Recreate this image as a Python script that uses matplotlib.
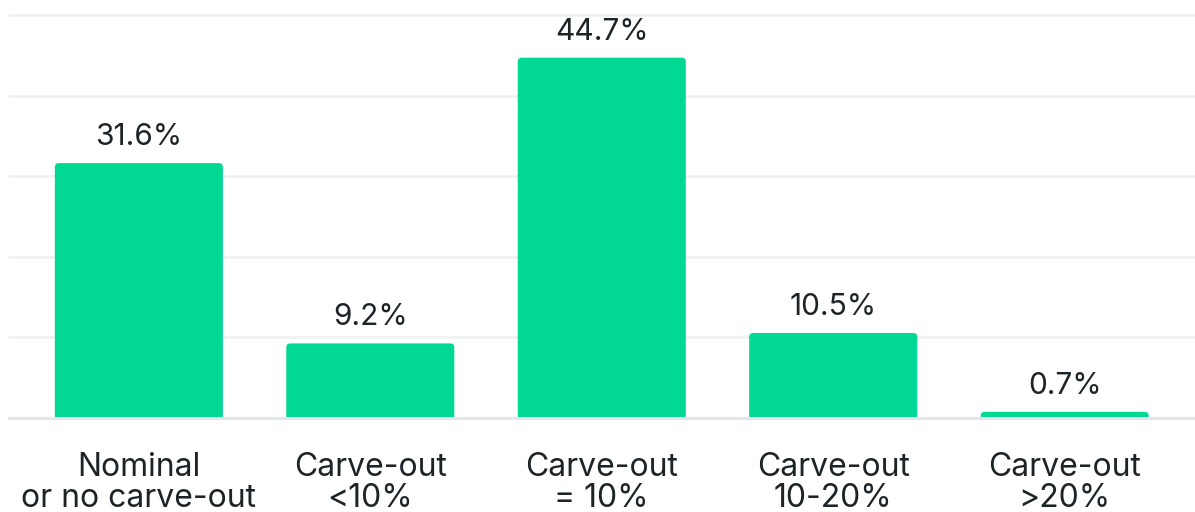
import numpy as np
import matplotlib.pyplot as plt
from matplotlib.patches import FancyBboxPatch

plt.rcParams['font.family'] = ['Inter', 'DejaVu Sans']

# Data
categories = ["Nominal\nor no carve-out", "Carve-out\n<10%", "Carve-out\n= 10%",
              "Carve-out\n10-20%", "Carve-out\n>20%"]
shares = [31.6, 9.2, 44.7, 10.5, 0.7]
value_labels = ["31.6%", "9.2%", "44.7%", "10.5%", "0.7%"]
grid_ticks = [0, 10, 20, 30, 40, 50]

bar_color = '#00d894'
text_color = '#1d2428'

fig = plt.figure(figsize=(11.95, 5.12), dpi=100)
ax = fig.add_axes([9 / 1195, (512 - 417.5) / 512, 1 - 9 / 1195, (417.5 - 15) / 512])

x = np.arange(len(categories))
bar_w = 0.726
ax.set_xlim(-0.561, 4.563)
ax.set_ylim(0, 50)

# pixel scales for rounded corners
px_x = 1 / 231.45
px_y = 50 / 402.5
radius = 4 * px_x

for xi, v in zip(x, shares):
    # extend below zero so the bottom corners get clipped (flat bottom)
    patch = FancyBboxPatch((xi - bar_w / 2, -2), bar_w, v + 2,
                           boxstyle=f"round,pad=0,rounding_size={radius}",
                           mutation_aspect=px_y / px_x,
                           facecolor=bar_color, edgecolor='none', zorder=3)
    ax.add_patch(patch)

for xi, v, lab in zip(x, shares, value_labels):
    ax.annotate(lab, (xi, v), xytext=(0, 13), textcoords='offset points',
                ha='center', va='baseline', fontsize=21.5, color=text_color)

# gridlines
for g in grid_ticks[1:]:
    ax.axhline(g, color='#eef1f1', lw=1.8, zorder=1, clip_on=False)
ax.axhline(0, color='#e2e6e8', lw=2.2, zorder=4, clip_on=False)

ax.set_xticks(x)
ax.set_xticklabels(categories, fontsize=23, color=text_color, linespacing=0.99)
ax.tick_params(axis='x', length=0, pad=25)
ax.set_yticks([])
for s in ax.spines.values():
    s.set_visible(False)

plt.savefig("out.png", dpi=100)
